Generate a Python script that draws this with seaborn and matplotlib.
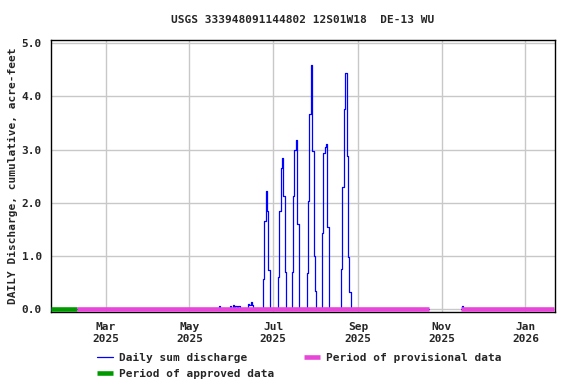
import matplotlib
matplotlib.use("Agg")
import matplotlib.pyplot as plt
import matplotlib.dates as mdates
import seaborn as sns
import pandas as pd
import numpy as np

# chart text
title = "USGS 333948091144802 12S01W18  DE-13 WU"
y_label = "DAILY Discharge, cumulative, acre-feet"

# record span and data periods
record_start = "2025-01-20"
record_end = "2026-01-21"
gap_start = "2025-10-24"
gap_end = "2025-11-14"
approved_periods = [("2025-01-20", "2025-02-08")]
provisional_periods = [("2025-02-08", "2025-10-23"), ("2025-11-15", "2026-01-22")]

# days with discharge (all other recorded days are zero)
event_dates = [
    "2025-05-23", "2025-05-31", "2025-06-02", "2025-06-04", "2025-06-06",
    "2025-06-13", "2025-06-14", "2025-06-15", "2025-06-16",
    "2025-06-24", "2025-06-25", "2025-06-26", "2025-06-27", "2025-06-28",
    "2025-07-05", "2025-07-06", "2025-07-07", "2025-07-08", "2025-07-09", "2025-07-10",
    "2025-07-15", "2025-07-16", "2025-07-17", "2025-07-18", "2025-07-19",
    "2025-07-26", "2025-07-27", "2025-07-28", "2025-07-29", "2025-07-30", "2025-07-31", "2025-08-01",
    "2025-08-06", "2025-08-07", "2025-08-08", "2025-08-09", "2025-08-10",
    "2025-08-20", "2025-08-21", "2025-08-22", "2025-08-23", "2025-08-24", "2025-08-25", "2025-08-26",
    "2025-11-16",
]
event_values = [
    0.06, 0.05, 0.08, 0.06, 0.06,
    0.10, 0.08, 0.12, 0.07,
    0.56, 1.65, 2.22, 1.84, 0.73,
    0.60, 1.84, 2.66, 2.84, 2.13, 0.69,
    0.69, 2.13, 3.00, 3.18, 1.59,
    0.68, 2.03, 3.66, 4.60, 2.97, 1.00, 0.34,
    1.43, 2.94, 3.04, 3.10, 1.54,
    0.75, 2.30, 3.76, 4.45, 2.88, 0.98, 0.31,
    0.05,
]

days = pd.date_range(record_start, record_end, freq="D")
discharge = pd.Series(0.0, index=days)
discharge[pd.to_datetime(event_dates)] = event_values
df = pd.DataFrame({"date": days, "value": discharge.values})
# split the record at the data gap so the line is not drawn across it
df["segment"] = (df["date"] > pd.Timestamp(gap_end)).astype(int)
df = df[(df["date"] < pd.Timestamp(gap_start)) | (df["date"] > pd.Timestamp(gap_end))]

sns.set_style("white")
plt.rcParams["font.family"] = ["DejaVu Sans Mono"]
plt.rcParams["font.weight"] = "bold"

fig = plt.figure(figsize=(5.76, 3.84), dpi=100)
ax = fig.add_axes([0.0885, 0.1875, 0.875, 0.708])

sns.lineplot(data=df, x="date", y="value", units="segment", estimator=None,
             color="#0000ff", lw=0.9, drawstyle="steps-mid",
             ax=ax, label="Daily sum discharge", zorder=3)

for i, (s, e) in enumerate(approved_periods):
    ax.plot(pd.to_datetime([s, e]), [0, 0], color="#009900", lw=3.3,
            solid_capstyle="butt", zorder=4,
            label="Period of approved data" if i == 0 else None)
for i, (s, e) in enumerate(provisional_periods):
    ax.plot(pd.to_datetime([s, e]), [0, 0], color="#e846d8", lw=3.3,
            solid_capstyle="butt", zorder=4,
            label="Period of provisional data" if i == 0 else None)

ax.set_xlim(pd.Timestamp("2025-01-20"), pd.Timestamp("2026-01-22 12:00"))
ax.set_ylim(-0.06, 5.06)
ax.set_yticks([0, 1, 2, 3, 4, 5])
ax.yaxis.set_major_formatter(matplotlib.ticker.FormatStrFormatter("%.1f"))
ax.xaxis.set_major_locator(mdates.MonthLocator(bymonth=[1, 3, 5, 7, 9, 11]))
ax.xaxis.set_major_formatter(mdates.DateFormatter("%b\n%Y"))

ax.grid(True, color="#c8c8c8", lw=1)
ax.set_axisbelow(True)
for sp in ax.spines.values():
    sp.set_color("black")
    sp.set_linewidth(1)
ax.tick_params(axis="both", labelsize=8, length=0)
ax.tick_params(axis="x", pad=7.5)
ax.tick_params(axis="y", pad=6.5)
ax.set_xlabel("")
ax.set_ylabel(y_label, fontsize=8, fontweight="bold", labelpad=3)
ax.set_title(title, fontsize=8, fontweight="bold", pad=12.5)

handles, labels = ax.get_legend_handles_labels()
order = [labels.index("Daily sum discharge"), labels.index("Period of approved data"),
         labels.index("Period of provisional data")]
leg = ax.legend([handles[k] for k in order], [labels[k] for k in order],
                loc="upper left", bbox_to_anchor=(0.082, -0.135), ncol=2,
                frameon=False, fontsize=8, handlelength=1.45, handletextpad=0.55,
                columnspacing=2.7, labelspacing=0.5, borderaxespad=0)

fig.savefig("out.png", dpi=100)
